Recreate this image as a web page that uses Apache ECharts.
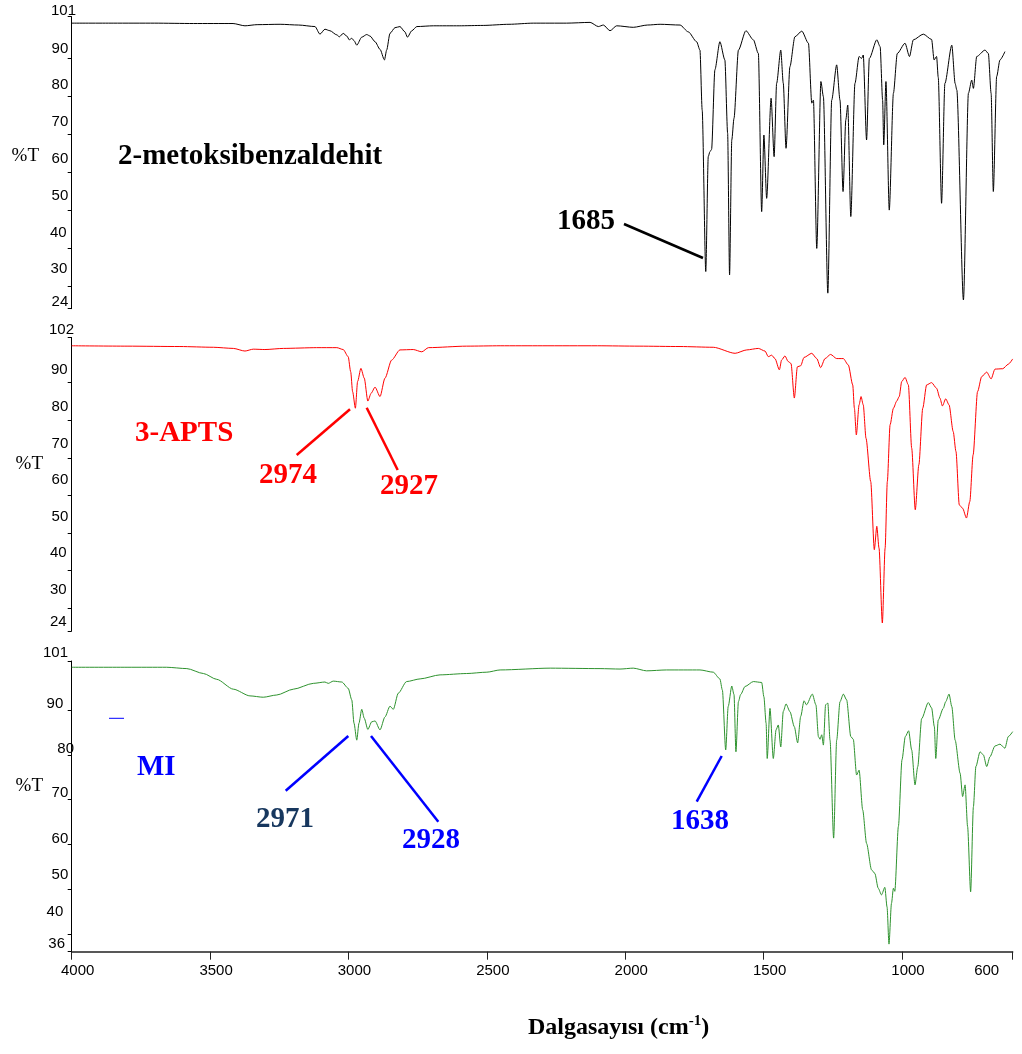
<!DOCTYPE html>
<html><head><meta charset="utf-8">
<script src="https://cdn.jsdelivr.net/npm/echarts@6/dist/echarts.min.js"></script>
<style>html,body{margin:0;padding:0;background:#fff}#c{width:1022px;height:1054px}</style>
</head><body><div id="c"></div>
<script>
// ---------- data (wavenumber cm-1, %T) ----------
const xTickLabels = [4000, 3500, 3000, 2500, 2000, 1500, 1000, 600];
const yTicks1 = [24, 30, 40, 50, 60, 70, 80, 90, 101];
const yTicks2 = [24, 30, 40, 50, 60, 70, 80, 90, 102];
const yTicks3 = [36, 40, 50, 60, 70, 80, 90, 101];
const sampleNames = ['2-metoksibenzaldehit', '3-APTS', 'MI'];
const peakLabels1 = ['1685'];
const peakLabels2 = ['2974', '2927'];
const peakLabels3 = ['2971', '2928', '1638'];
const yTitle = '%T';

const spectrum1 = [[4000,99.3],[3850,99.3],[3700,99.3],[3560,99.2],[3417,99.2],[3374,98.6],[3330,98.9],[3247,99.0],[3180,98.8],[3121,98.4],
[3103,96.4],[3085,97.7],[3067,97.3],[3042,96.2],[3033,95.7],[3019,96.6],[3006,95.9],[2997,94.9],[2988,95.3],[2980,94.7],
[2970,93.5],[2952,95.6],[2934,96.3],[2922,95.9],[2904,94.4],[2886,92.4],[2870,89.6],[2862,92.2],[2850,96.6],[2832,98.1],
[2814,98.4],[2796,97.0],[2787,95.6],[2771,97.3],[2753,98.4],[2693,98.6],[2600,98.6],[2513,98.7],[2420,99.0],[2332,99.3],
[2212,99.3],[2127,99.5],[2097,98.4],[2079,98.8],[2055,97.3],[2031,98.6],[1971,98.2],[1920,98.8],[1874,99.0],[1802,98.8],
[1772,97.0],[1742,94.4],[1730,92.2],[1722,76.4],[1709,33.8],[1700,64.1],[1694,65.4],[1688,66.0],[1676,87.0],[1658,94.4],
[1640,89.6],[1630,70.3],[1623,32.9],[1615,68.5],[1607,74.2],[1591,92.2],[1564,97.3],[1537,94.9],[1519,91.3],[1507,49.6],
[1499,69.8],[1489,53.1],[1473,79.5],[1462,64.1],[1453,83.4],[1438,92.2],[1429,83.5],[1419,66.3],[1405,87.8],[1387,95.7],
[1362,97.2],[1338,94.0],[1326,78.2],[1320,79.0],[1308,39.9],[1293,83.9],[1284,79.9],[1268,28.1],[1254,79.0],[1236,88.3],
[1224,79.0],[1213,54.9],[1203,73.8],[1196,77.7],[1185,48.3],[1170,83.4],[1155,90.5],[1146,90.0],[1140,90.9],[1128,68.5],
[1118,90.0],[1091,94.9],[1079,93.1],[1070,79.0],[1066,67.2],[1058,83.9],[1046,50.0],[1031,80.8],[1017,91.3],[989,94.0],
[973,90.5],[959,94.9],[923,96.4],[893,95.0],[884,89.6],[875,90.5],[869,85.0],[857,51.8],[845,83.4],[820,93.5],
[808,83.4],[802,81.7],[778,26.3],[760,80.8],[748,84.3],[742,82.1],[730,90.5],[700,92.2],[688,91.3],[678,80.8],
[670,54.9],[658,85.2],[646,89.6],[628,91.8]];

const spectrum2 = [[4000,99.8],[3800,99.7],[3609,99.6],[3488,99.4],[3416,99.1],[3374,98.4],[3344,98.9],[3302,98.8],[3235,99.1],[3115,99.3],
[3042,99.3],[3019,98.8],[3001,96.9],[2992,92.9],[2985,87.6],[2975,83.2],[2967,90.3],[2955,93.8],[2943,91.2],[2930,85.1],
[2918,87.2],[2904,88.8],[2886,86.3],[2868,91.2],[2844,96.0],[2814,98.7],[2766,98.8],[2735,98.2],[2711,99.3],[2573,99.7],
[2452,99.8],[2300,99.8],[2100,99.8],[1950,99.7],[1802,99.6],[1682,99.4],[1603,97.8],[1561,98.7],[1519,99.1],[1495,98.4],
[1483,96.9],[1471,97.3],[1459,96.4],[1443,93.4],[1435,96.0],[1423,97.1],[1411,95.6],[1401,95.1],[1389,85.9],[1378,94.2],
[1366,94.5],[1354,96.7],[1326,97.8],[1308,96.4],[1294,94.0],[1278,96.4],[1258,97.5],[1236,96.4],[1212,96.4],[1194,94.7],
[1178,89.4],[1172,83.2],[1165,76.1],[1155,84.1],[1148,86.3],[1140,84.1],[1130,75.2],[1113,63.7],[1100,45.6],[1091,51.8],
[1083,46.0],[1071,26.1],[1061,46.0],[1053,63.7],[1043,78.8],[1031,83.2],[1019,85.1],[1010,86.3],[1001,90.3],[989,91.4],
[977,89.4],[965,72.6],[952,56.2],[939,68.2],[925,83.2],[911,89.4],[893,90.0],[875,88.5],[863,85.9],[854,83.8],
[842,85.7],[830,84.1],[815,77.0],[805,71.7],[793,57.5],[781,56.6],[767,54.0],[755,58.4],[743,70.8],[727,87.6],
[712,91.6],[694,92.8],[678,91.0],[664,93.6],[636,93.7],[616,94.9],[600,96.3]];

const spectrum3 = [[4000,99.6],[3800,99.6],[3657,99.6],[3584,99.3],[3524,98.2],[3476,96.9],[3416,94.7],[3356,93.2],[3308,92.9],[3259,93.4],
[3199,94.7],[3127,96.0],[3085,96.3],[3073,96.0],[3055,96.5],[3024,96.3],[3001,94.9],[2988,92.3],[2980,87.1],[2970,83.3],
[2962,87.1],[2952,90.2],[2943,88.2],[2930,85.7],[2916,87.4],[2904,87.6],[2886,85.6],[2868,88.5],[2850,90.9],[2838,90.2],
[2820,93.8],[2790,96.4],[2741,97.0],[2669,97.9],[2573,98.2],[2500,98.5],[2452,99.0],[2271,99.4],[2091,99.3],[2019,99.2],
[1971,99.4],[1923,98.8],[1851,99.0],[1730,99.0],[1682,98.5],[1658,97.0],[1649,94.5],[1637,81.1],[1628,90.8],[1615,95.4],
[1607,93.5],[1600,80.7],[1591,91.9],[1583,93.5],[1567,95.3],[1537,96.4],[1507,96.2],[1499,93.0],[1491,87.1],[1487,79.2],
[1477,90.4],[1465,79.2],[1455,85.6],[1447,86.7],[1438,81.8],[1429,89.7],[1419,91.4],[1405,89.7],[1389,86.3],[1377,82.7],
[1366,88.6],[1354,92.1],[1345,91.2],[1324,93.6],[1311,91.2],[1302,84.1],[1296,83.5],[1290,84.5],[1284,82.2],[1276,91.2],
[1268,91.6],[1260,83.3],[1247,61.4],[1236,83.3],[1224,91.9],[1212,93.6],[1200,92.3],[1185,84.1],[1176,83.5],[1164,75.5],
[1155,76.6],[1142,67.7],[1128,60.2],[1110,54.3],[1098,53.5],[1086,50.2],[1074,48.7],[1062,50.4],[1054,46.0],[1047,37.7],
[1038,46.8],[1031,50.2],[1026,49.5],[1013,64.0],[1000,78.9],[988,84.1],[976,85.4],[965,81.1],[953,73.3],[943,77.4],
[929,88.1],[905,91.7],[893,90.5],[883,86.3],[878,79.2],[869,87.8],[851,90.4],[842,91.9],[830,93.6],[820,90.8],
[808,83.3],[790,75.9],[781,70.7],[772,73.3],[763,64.0],[752,49.4],[742,68.4],[733,77.4],[718,80.7],[706,80.0],
[694,77.4],[682,79.6],[664,82.0],[646,82.4],[628,81.5],[616,84.1],[600,85.2]];

// ---------- styling ----------
const SANS = '"Liberation Sans", Arial, sans-serif';
const SERIF = '"Liberation Serif", "Times New Roman", serif';
const colors = ['#000000', '#ff0000', '#2e922e'];
const grids = [
  { left: 71.7, right: 9.3, top: 16.7, height: 292 },
  { left: 71.7, right: 9.3, top: 337.5, height: 293.4 },
  { left: 71.7, right: 9.3, top: 661, height: 290.7 }
];
// per-label placement tweaks: [shift up px, right edge x]
const labelTweaks = [
  {101:[6,76],90:[10,68.3],80:[11,68.3],70:[12,68.3],60:[13,68.3],50:[14,68.3],40:[15,66.7],30:[17,67.3],24:[7,68.3]},
  {102:[7.5,74],90:[12.7,67.7],80:[13.3,68.3],70:[14.4,68.3],60:[15.3,68.3],50:[16.3,68.3],40:[17.4,66.7],30:[18.3,66.7],24:[9.2,66.7]},
  {101:[8,68],90:[6,63.3],80:[6.3,74],70:[6.7,68.3],60:[6,68.3],50:[14,68.3],40:[21.6,63.3],36:[8,65]}
];
// y-title anchor (right edge x, centre y) per panel
const yTitlePos = [[39, 156], [43, 464], [43, 786]];

function yAxisFor(i, min, max, ticks) {
  const rich = {};
  ticks.forEach(v => {
    const t = labelTweaks[i][v] || [0, 68];
    rich['k' + v] = { fontFamily: SANS, fontSize: 15, color: '#000',
      padding: [0, Math.max(0, 79.7 - t[1]), 2 * t[0], 0] };
  });
  return {
    gridIndex: i, type: 'value', min: min, max: max,
    axisLine: { show: true, lineStyle: { color: '#000', width: 1 } },
    axisTick: { show: true, customValues: ticks, length: 4, lineStyle: { color: '#000', width: 1 } },
    axisLabel: { show: true, customValues: ticks, margin: -8, showMinLabel: true, showMaxLabel: true,
      fontFamily: SANS, fontSize: 15, color: '#000',
      formatter: v => '{k' + v + '|' + v + '}', rich: rich },
    splitLine: { show: false }
  };
}

function xAxisFor(i) {
  const shown = i === 2;
  return {
    gridIndex: i, type: 'value', min: 600, max: 4000, inverse: true, show: shown,
    axisLine: { show: shown, onZero: false, lineStyle: { color: '#222', width: 1.5 } },
    axisTick: { show: shown, customValues: xTickLabels, length: 8, lineStyle: { color: '#222', width: 1 } },
    axisLabel: { show: shown, customValues: xTickLabels, margin: 12, showMinLabel: true, showMaxLabel: true,
      fontFamily: SANS, fontSize: 15, color: '#000',
      formatter: v => (v === 600 ? '{e|' + v + '}' : '{n|' + v + '}'),
      rich: { n: { fontFamily: SANS, fontSize: 15, color: '#000', padding: [0, 0, 0, 12] },
              e: { fontFamily: SANS, fontSize: 15, color: '#000', padding: [0, 52, 0, 0] } } },
    splitLine: { show: false }
  };
}

function boldText(txt, x, y, color, size, align) {
  return { type: 'text', x: x, y: y, z: 50,
    style: { text: txt, fill: color, font: 'bold ' + size + 'px ' + SERIF,
      align: align || 'left', verticalAlign: 'middle' } };
}
function plainText(txt, x, y, size) {
  return { type: 'text', x: x, y: y, z: 50,
    style: { text: txt, fill: '#000', font: size + 'px ' + SERIF, align: 'right', verticalAlign: 'middle' } };
}
function pointer(x1, y1, x2, y2, color) {
  return { type: 'line', z: 50, shape: { x1: x1, y1: y1, x2: x2, y2: y2 },
    style: { stroke: color, lineWidth: 2.5 } };
}

const graphics = [
  boldText(sampleNames[0], 118, 157, '#000', 29),
  boldText(peakLabels1[0], 557, 222, '#000', 29),
  pointer(624, 224, 703, 258, '#000'),
  boldText(sampleNames[1], 135, 434, '#ff0000', 29),
  boldText(peakLabels2[0], 259, 476, '#ff0000', 29),
  boldText(peakLabels2[1], 380, 487, '#ff0000', 29),
  pointer(350, 409.3, 296.7, 455, '#ff0000'),
  pointer(366.7, 407.7, 397.7, 470, '#ff0000'),
  boldText(sampleNames[2], 137, 767.5, '#0000ff', 29),
  { type: 'line', z: 50, shape: { x1: 109, y1: 718.3, x2: 124, y2: 718.3 }, style: { stroke: '#0000ff', lineWidth: 1 } },
  boldText(peakLabels3[0], 256, 820, '#17375e', 29),
  boldText(peakLabels3[1], 402, 841, '#0000ff', 29),
  boldText(peakLabels3[2], 671, 822, '#0000ff', 29),
  pointer(348.3, 736, 285.7, 790.7, '#0000ff'),
  pointer(371, 736, 438.3, 821.7, '#0000ff'),
  pointer(721.7, 756, 696.7, 801.7, '#0000ff'),
  plainText(yTitle, yTitlePos[0][0], yTitlePos[0][1], 19),
  plainText(yTitle, yTitlePos[1][0], yTitlePos[1][1], 19),
  plainText(yTitle, yTitlePos[2][0], yTitlePos[2][1], 19),
  { type: 'text', x: 528, y: 1028, z: 50,
    style: { text: '{a|Dalgasayısı (cm}{s|-1}{a|)}', align: 'left', verticalAlign: 'middle',
      rich: { a: { fontFamily: SERIF, fontWeight: 'bold', fontSize: 24, fill: '#000' },
              s: { fontFamily: SERIF, fontWeight: 'bold', fontSize: 15, fill: '#000', padding: [0, 0, 14, 0] } } } }
];

const chart = echarts.init(document.getElementById('c'), null, { renderer: 'canvas' });
chart.setOption({
  backgroundColor: '#ffffff',
  animation: false,
  grid: grids,
  xAxis: [xAxisFor(0), xAxisFor(1), xAxisFor(2)],
  yAxis: [yAxisFor(0, 24, 101, yTicks1), yAxisFor(1, 24, 102, yTicks2), yAxisFor(2, 36, 101, yTicks3)],
  series: [spectrum1, spectrum2, spectrum3].map((d, i) => ({
    type: 'line', xAxisIndex: i, yAxisIndex: i, data: d, showSymbol: false, symbol: 'none',
    lineStyle: { color: colors[i], width: 1 }, itemStyle: { color: colors[i] },
    smooth: 0.25, smoothMonotone: 'x'
  })),
  graphic: graphics
});
</script></body></html>
